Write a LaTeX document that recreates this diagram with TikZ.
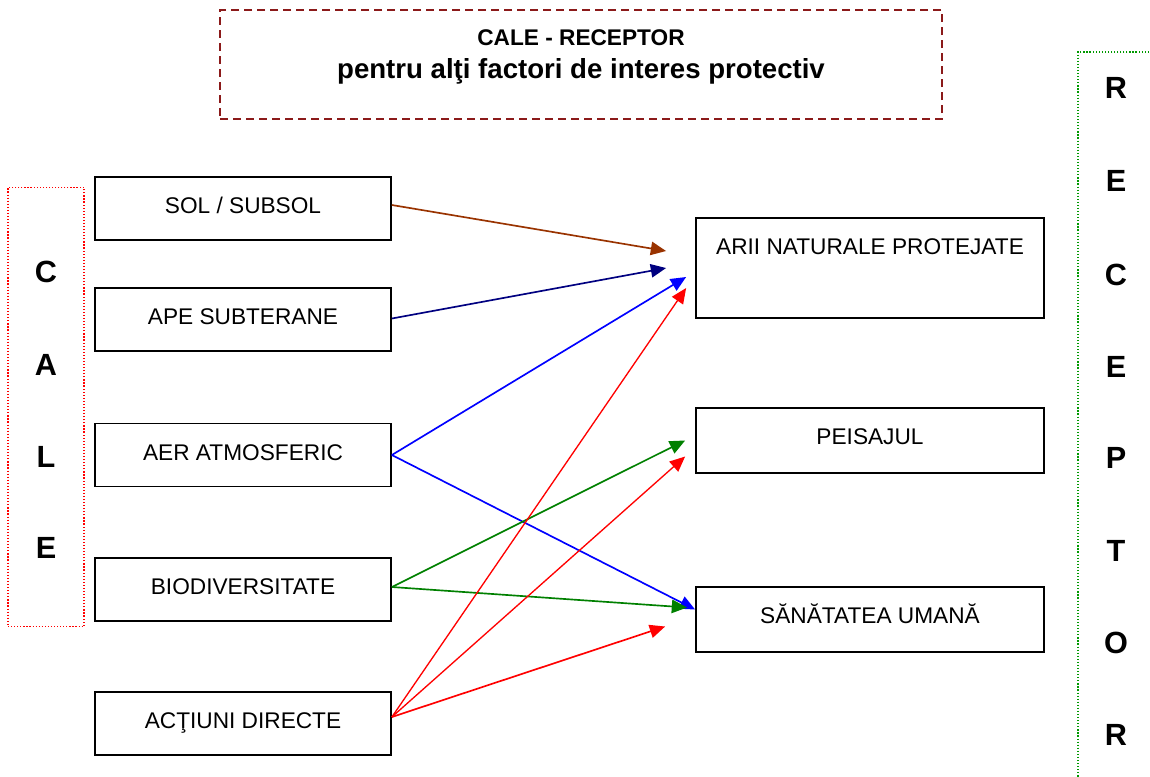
\documentclass[tikz,border=0pt]{standalone}
\usepackage{fontspec}
\setmainfont{Liberation Sans}
\usetikzlibrary{arrows.meta,calc}
\definecolor{brownarrow}{RGB}{153,51,0}
\definecolor{navyarrow}{RGB}{0,0,128}
\definecolor{greenarrow}{RGB}{0,128,0}
\definecolor{titlered}{RGB}{139,26,26}
\definecolor{receptorgreen}{RGB}{0,153,0}

\begin{document}
\begin{tikzpicture}[x=0.75pt,y=-0.75pt]
	\tikzset{
		box/.style={draw=black, line width=1.3pt, inner ysep=0pt, text height=27.4pt, font=\fontsize{17}{20}\selectfont},
		calebox/.style={box, minimum width=222pt, text depth=19.85pt},
		receptorbox/.style={box, minimum width=261pt, text depth=21.35pt},
		letter/.style={font=\fontsize{23}{26}\selectfont\bfseries},
		link/.style={line width=1.25pt, -{Triangle[length=11.5pt,width=10pt]}}
	}
	\useasboundingbox (0,0) rectangle (1150,776);
	\clip (0,0) rectangle (1150,776);

	\node[draw=titlered, line width=1.1pt, dash pattern=on 6pt off 3.75pt, minimum width=541.5pt, minimum height=81.75pt] (title) at (581,64.5) {};
	\node[anchor=base, font=\fontsize{17}{20}\selectfont\bfseries] (titletop) at (581,45) {CALE - RECEPTOR};
	\node[anchor=base, font=\fontsize{20.7}{24}\selectfont\bfseries] (titlebottom) at (581,78.5) {pentru alţi factori de interes protectiv};

	\node[draw=red, line width=0.9pt, dash pattern=on 0.9pt off 1.4pt, minimum width=57pt, minimum height=329.25pt] (caleframe) at (46,407) {};
	\node[draw=receptorgreen, line width=0.9pt, dash pattern=on 0.9pt off 1.4pt, minimum width=61.5pt, minimum height=553.5pt] (receptorframe) at (1119,421) {};

	\foreach \ch/\y [count=\i] in {C/272,A/365,L/457,E/548}
		\node[letter] (cale\i) at (46,\y) {\ch};
	\foreach \ch/\y [count=\i] in {R/88,E/181,C/275,E/367,P/458,T/551,O/643,R/735}
		\node[letter] (receptor\i) at (1116,\y) {\ch};

	\node[calebox] (sol) at (243,208.5) {SOL / SUBSOL};
	\node[calebox] (ape) at (243,319.5) {APE SUBTERANE};
	\node[calebox] (aer) at (243,455) {AER ATMOSFERIC};
	\node[calebox] (bio) at (243,589.5) {BIODIVERSITATE};
	\node[calebox] (act) at (243,723.5) {ACŢIUNI DIRECTE};

	\node[box, minimum width=261pt, text depth=47.6pt] (arii) at (870,268) {ARII NATURALE PROTEJATE};
	\node[receptorbox] (peisaj) at (870,440.5) {PEISAJUL};
	\node[receptorbox] (sanatate) at (870,619.5) {SĂNĂTATEA UMANĂ};

	\draw[link, brownarrow] ($(sol.east)+(0,-3.5)$) -- ($(arii.west)+(-29,-17)$);
	\draw[link, navyarrow] ($(ape.east)+(0,-1)$) -- ($(arii.west)+(-29,0)$);
	\draw[link, blue] (aer.east) -- ($(arii.west)+(-9,9)$);
	\draw[link, blue] (aer.east) -- ($(sanatate.west)+(0,-10)$);
	\draw[link, greenarrow] ($(bio.east)+(0,-2.5)$) -- ($(peisaj.west)+(-10,0)$);
	\draw[link, greenarrow] ($(bio.east)+(0,-2.5)$) -- ($(sanatate.west)+(-8,-12)$);
	\draw[link, red, line width=1pt] ($(act.east)+(0,-6.5)$) -- ($(arii.west)+(-9,20)$);
	\draw[link, red, line width=1pt] ($(act.east)+(0,-6.5)$) -- ($(peisaj.west)+(-10,16)$);
	\draw[link, red] ($(act.east)+(0,-6.5)$) -- ($(sanatate.west)+(-30,7)$);
\end{tikzpicture}
\end{document}
